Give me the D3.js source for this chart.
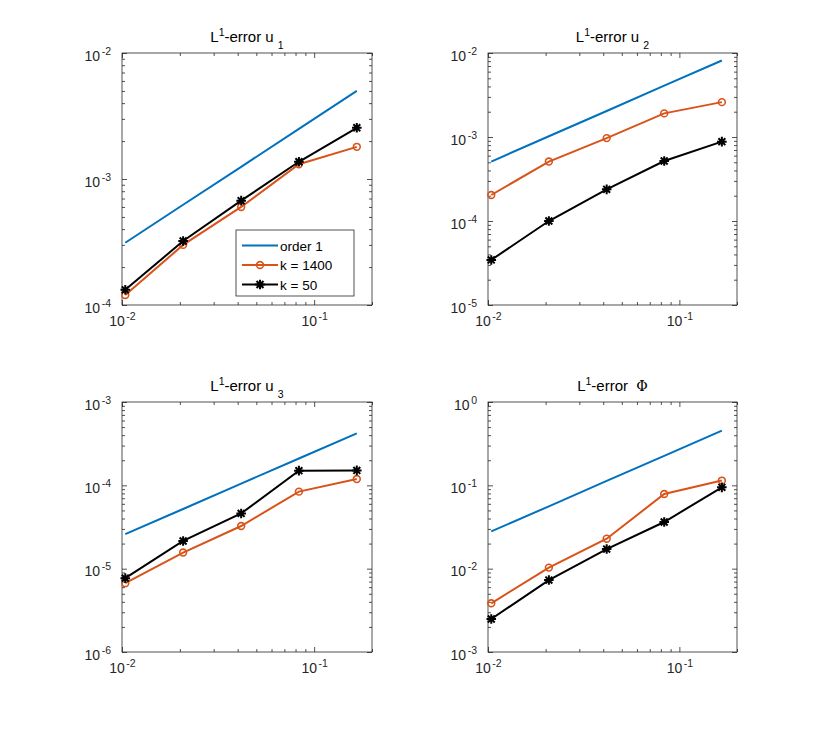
<!DOCTYPE html>
<html>
<head>
<meta charset="utf-8">
<script src="https://cdn.jsdelivr.net/npm/d3@7"></script>
<style>
  body { margin: 0; background: #fff; }
  svg { font-family: "Liberation Sans", Arial, Helvetica, sans-serif; }
</style>
</head>
<body>
<div class="chart_container"></div>
<script>
// mesh sizes h (x values, shared by all four panels)
const hValues = [0.0104, 0.0208, 0.0417, 0.0833, 0.1667];
const xDomain = [0.01, 0.2];
const xTickExps = [-2, -1];

const seriesNames = ['order 1', 'k = 1400', 'k = 50'];

// u1
const u1Order1 = [3.12e-4, 6.25e-4, 1.25e-3, 2.5e-3, 5.0e-3];
const u1K1400 = [1.2e-4, 3.0e-4, 6.0e-4, 1.31e-3, 1.8e-3];
const u1K50 = [1.32e-4, 3.22e-4, 6.73e-4, 1.37e-3, 2.55e-3];
const u1TickExps = [-4, -3, -2];

// u2
const u2Order1 = [5.1e-4, 1.02e-3, 2.04e-3, 4.08e-3, 8.15e-3];
const u2K1400 = [2.04e-4, 5.1e-4, 9.7e-4, 1.91e-3, 2.6e-3];
const u2K50 = [3.44e-5, 1.0e-4, 2.38e-4, 5.18e-4, 8.8e-4];
const u2TickExps = [-5, -4, -3, -2];

// u3
const u3Order1 = [2.6e-5, 5.2e-5, 1.05e-4, 2.1e-4, 4.2e-4];
const u3K1400 = [6.7e-6, 1.56e-5, 3.25e-5, 8.4e-5, 1.19e-4];
const u3K50 = [7.7e-6, 2.15e-5, 4.6e-5, 1.5e-4, 1.51e-4];
const u3TickExps = [-6, -5, -4, -3];

// Phi
const phiOrder1 = [2.8e-2, 5.6e-2, 0.113, 0.226, 0.453];
const phiK1400 = [3.84e-3, 1.03e-2, 2.29e-2, 7.87e-2, 0.114];
const phiK50 = [2.49e-3, 7.3e-3, 1.72e-2, 3.63e-2, 9.46e-2];
const phiTickExps = [-3, -2, -1, 0];

const colors = ['#0072BD', '#D95319', '#000000'];
const markers = ['none', 'circle', 'asterisk'];
const axisColor = '#262626';

const width = 830;
const height = 733;

// subplot boxes in pixels
const cols = [[122, 372], [488, 737]];
const rows = [[53, 305], [402, 652]];

const panels = [
  { title: [['L'], ['1', 'sup'], ['-error u '], ['1', 'sub']], exps: u1TickExps, series: [u1Order1, u1K1400, u1K50], col: 0, row: 0, legend: true },
  { title: [['L'], ['1', 'sup'], ['-error u '], ['2', 'sub']], exps: u2TickExps, series: [u2Order1, u2K1400, u2K50], col: 1, row: 0 },
  { title: [['L'], ['1', 'sup'], ['-error u '], ['3', 'sub']], exps: u3TickExps, series: [u3Order1, u3K1400, u3K50], col: 0, row: 1 },
  { title: [['L'], ['1', 'sup'], ['-error  '], ['\u03A6', 'sym']], exps: phiTickExps, series: [phiOrder1, phiK1400, phiK50], col: 1, row: 1 },
];

const minorTicks = (domain) => {
  const lo = Math.floor(Math.log10(domain[0]));
  const hi = Math.ceil(Math.log10(domain[1]));
  const out = [];
  for (let e = lo; e < hi; e++) {
    for (let m = 2; m <= 9; m++) {
      const v = m * Math.pow(10, e);
      if (v >= domain[0] * 0.999 && v <= domain[1] * 1.001) out.push(v);
    }
  }
  return out;
};

const asteriskPath = (s) => {
  const d = s * 0.72;
  return `M${-s},0L${s},0M0,${-s}L0,${s}M${-d},${-d}L${d},${d}M${-d},${d}L${d},${-d}`;
};

function drawMarker(g, kind, cx, cy, color) {
  if (kind === 'circle') {
    g.append('circle')
      .attr('cx', cx).attr('cy', cy).attr('r', 3.4)
      .attr('fill', 'none').attr('stroke', color).attr('stroke-width', 1.6);
  } else if (kind === 'asterisk') {
    g.append('path')
      .attr('d', asteriskPath(4.8))
      .attr('transform', `translate(${cx},${cy})`)
      .attr('fill', 'none').attr('stroke', color).attr('stroke-width', 2);
  }
}

function styleAxis(g) {
  g.select('.domain').remove();
  g.attr('color', axisColor).attr('font-family', null).attr('font-size', null);
  g.selectAll('line').attr('stroke-width', 0.8);
}

function addPowerLabels(g, exps, dyMain) {
  g.selectAll('.tick text')
    .attr('dy', dyMain)
    .attr('font-size', 14)
    .each(function (d, i) {
      const t = d3.select(this);
      t.append('tspan').text('10');
      t.append('tspan').attr('dx', 1.5).attr('dy', -6).attr('font-size', 10.5).text(exps[i]);
    });
}

function drawPanel(svg, p) {
  const [left, right] = cols[p.col];
  const [top, bottom] = rows[p.row];
  const yDomain = [Math.pow(10, p.exps[0]), Math.pow(10, p.exps[p.exps.length - 1])];

  const x = d3.scaleLog().domain(xDomain).range([left, right]);
  const y = d3.scaleLog().domain(yDomain).range([bottom, top]);

  const xMajor = xTickExps.map(e => Math.pow(10, e));
  const yMajor = p.exps.map(e => Math.pow(10, e));

  const g = svg.append('g');

  // minor ticks on all four sides
  [[d3.axisBottom(x), bottom], [d3.axisTop(x), top]].forEach(([ax, pos]) => {
    const a = g.append('g').attr('transform', `translate(0,${pos})`)
      .call(ax.tickValues(minorTicks(xDomain)).tickSize(-3).tickFormat(''));
    styleAxis(a);
    a.selectAll('text').remove();
  });
  [[d3.axisLeft(y), left], [d3.axisRight(y), right]].forEach(([ax, pos]) => {
    const a = g.append('g').attr('transform', `translate(${pos},0)`)
      .call(ax.tickValues(minorTicks(yDomain)).tickSize(-3).tickFormat(''));
    styleAxis(a);
    a.selectAll('text').remove();
  });

  // major ticks
  const xb = g.append('g').attr('transform', `translate(0,${bottom})`)
    .call(d3.axisBottom(x).tickValues(xMajor).tickSize(-5).tickPadding(0).tickFormat(() => ''));
  styleAxis(xb);
  addPowerLabels(xb, xTickExps, 21);

  const xt = g.append('g').attr('transform', `translate(0,${top})`)
    .call(d3.axisTop(x).tickValues(xMajor).tickSize(-5).tickFormat(''));
  styleAxis(xt);
  xt.selectAll('text').remove();

  const yl = g.append('g').attr('transform', `translate(${left},0)`)
    .call(d3.axisLeft(y).tickValues(yMajor).tickSize(-5).tickPadding(11).tickFormat(() => ''));
  styleAxis(yl);
  addPowerLabels(yl, p.exps, 7);

  const yr = g.append('g').attr('transform', `translate(${right},0)`)
    .call(d3.axisRight(y).tickValues(yMajor).tickSize(-5).tickFormat(''));
  styleAxis(yr);
  yr.selectAll('text').remove();

  // box
  g.append('rect')
    .attr('x', left).attr('y', top)
    .attr('width', right - left).attr('height', bottom - top)
    .attr('fill', 'none').attr('stroke', axisColor).attr('stroke-width', 0.8);

  // title
  const title = g.append('text')
    .attr('x', (left + right) / 2).attr('y', top - 11)
    .attr('text-anchor', 'middle')
    .attr('font-size', 15)
    .attr('fill', '#000')
    .style('white-space', 'pre');
  let shift = 0;
  p.title.forEach(([txt, kind]) => {
    const ts = title.append('tspan').text(txt);
    let target = 0;
    if (kind === 'sup') { target = -6; ts.attr('font-size', 10.5); }
    if (kind === 'sub') { target = 7; ts.attr('font-size', 10.5); }
    if (kind === 'sym') { ts.attr('font-family', '"DejaVu Serif", "Liberation Serif", serif').attr('font-size', 14); }
    ts.attr('dy', target - shift);
    shift = target;
  });

  // series
  const line = d3.line()
    .x((d, i) => x(hValues[i]))
    .y(d => y(d));

  p.series.forEach((vals, s) => {
    g.append('path')
      .datum(vals)
      .attr('d', line)
      .attr('fill', 'none')
      .attr('stroke', colors[s])
      .attr('stroke-width', 2);
    vals.forEach((v, i) => drawMarker(g, markers[s], x(hValues[i]), y(v), colors[s]));
  });

  if (p.legend) drawLegend(g);
}

function drawLegend(g) {
  const lx = 236, ly = 230, lw = 118, lh = 66;
  const rowY = [245.5, 265, 284.5];
  g.append('rect')
    .attr('x', lx).attr('y', ly).attr('width', lw).attr('height', lh)
    .attr('fill', '#fff').attr('stroke', axisColor).attr('stroke-width', 0.8);
  seriesNames.forEach((name, s) => {
    g.append('line')
      .attr('x1', lx + 6).attr('x2', lx + 42)
      .attr('y1', rowY[s]).attr('y2', rowY[s])
      .attr('stroke', colors[s]).attr('stroke-width', 2);
    drawMarker(g, markers[s], lx + 24, rowY[s], colors[s]);
    g.append('text')
      .attr('x', lx + 44).attr('y', rowY[s] + 5)
      .attr('font-size', 13.5)
      .attr('fill', '#000')
      .text(name);
  });
}

function drawChart() {
  const container = document.querySelector('div.chart_container');
  container.innerHTML = `<svg id="svgCont" width=${width} height=${height}></svg>`;
  const svg = d3.select(container).select('#svgCont');
  svg.append('rect').attr('width', width).attr('height', height).attr('fill', '#fff');
  panels.forEach(p => drawPanel(svg, p));
}

drawChart();
</script>
</body>
</html>
